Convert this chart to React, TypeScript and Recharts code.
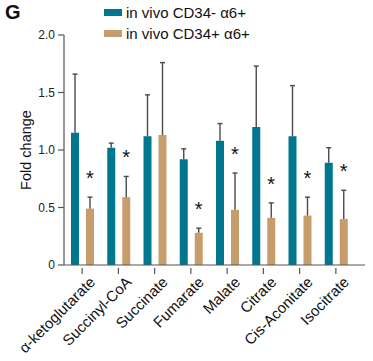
import React from "react";
import { BarChart, Bar, XAxis, YAxis, LabelList } from "recharts";

const categories = [
  "α-ketoglutarate",
  "Succinyl-CoA",
  "Succinate",
  "Fumarate",
  "Malate",
  "Citrate",
  "Cis-Aconitate",
  "Isocitrate",
];
const negMean = [1.15, 1.02, 1.12, 0.92, 1.08, 1.2, 1.12, 0.89];
const negErr = [0.51, 0.04, 0.36, 0.09, 0.15, 0.53, 0.44, 0.13];
const posMean = [0.49, 0.59, 1.13, 0.28, 0.48, 0.41, 0.43, 0.4];
const posErr = [0.1, 0.18, 0.63, 0.04, 0.32, 0.13, 0.16, 0.25];
const significant = [true, true, false, true, true, true, true, true];
const yTicks = [0, 0.5, 1.0, 1.5, 2.0];
const seriesNames = ["in vivo CD34- α6+", "in vivo CD34+ α6+"];

const BLUE = "#00768f";
const TAN = "#c89d6c";
const FONT = "'Liberation Sans', Arial, Helvetica, sans-serif";

const data = categories.map((name, i) => ({
  name,
  neg: negMean[i],
  negErr: negErr[i],
  pos: posMean[i],
  posErr: posErr[i],
  sig: significant[i],
}));

const makeErr = (meanKey: "neg" | "pos", star: boolean) => (props: any) => {
  const vb = props.viewBox || {};
  const x = props.x ?? vb.x;
  const y = props.y ?? vb.y;
  const width = props.width ?? vb.width;
  const height = props.height ?? vb.height;
  const idx = props.index;
  const row = data[idx];
  if (!row || x == null) return null;
  const mean = row[meanKey];
  const err = Number(props.value);
  const pxPerUnit = Math.abs(height) / mean;
  const cx = x + width / 2;
  const top = y - err * pxPerUnit;
  return (
    <g>
      <line x1={cx} y1={y} x2={cx} y2={top} stroke="#4a4a4a" strokeWidth={1.4} />
      <line x1={cx - 2.5} y1={top} x2={cx + 2.5} y2={top} stroke="#4a4a4a" strokeWidth={1.4} />
      {star && row.sig ? (
        <text x={cx} y={top - 12} textAnchor="middle" fontSize={20} fontFamily={FONT} fill="#111">
          *
        </text>
      ) : null}
    </g>
  );
};

const XTick = (props: any) => {
  const { x, y, payload } = props;
  return (
    <g>
      <line x1={x} y1={y - 3} x2={x} y2={y + 3} stroke="#555" strokeWidth={1.2} />
      <text
        x={x + 14}
        y={y + 12}
        textAnchor="end"
        transform={`rotate(-45, ${x + 14}, ${y + 12})`}
        fontSize={15}
        fontFamily={FONT}
        fill="#111"
      >
        {payload.value}
      </text>
    </g>
  );
};

export default function App() {
  return (
    <div style={{ position: "absolute", left: 0, top: 0, width: 373, height: 361, background: "#fff" }}>
      <div
        style={{
          position: "absolute",
          left: 5,
          top: 1,
          fontFamily: FONT,
          fontWeight: "bold",
          fontSize: 20,
          color: "#111",
        }}
      >
        G
      </div>
      <div
        style={{
          position: "absolute",
          left: 104,
          top: 2,
          fontFamily: FONT,
          fontSize: 15,
          color: "#111",
          zIndex: 2,
        }}
      >
        {seriesNames.map((t, i) => (
          <div key={t} style={{ display: "flex", alignItems: "center", height: 21 }}>
            <span
              style={{
                display: "inline-block",
                width: 18,
                height: 7,
                background: i === 0 ? BLUE : TAN,
                marginRight: 4,
              }}
            />
            <span>{t}</span>
          </div>
        ))}
      </div>
      <BarChart
        width={373}
        height={361}
        data={data}
        margin={{ top: 35, right: 8, bottom: 0, left: 0 }}
        barSize={8}
        barGap={7}
      >
        <XAxis
          dataKey="name"
          interval={0}
          height={96}
          tickLine={false}
          tick={<XTick />}
          tickMargin={0}
          axisLine={{ stroke: "#555", strokeWidth: 1.2 }}
          padding={{ left: 0, right: 11 }}
        />
        <YAxis
          domain={[0, 2]}
          ticks={yTicks}
          width={64}
          tickSize={6}
          tickMargin={3}
          tickFormatter={(v: number) => (v === 0 ? "0" : v.toFixed(1))}
          tick={{ fontSize: 12, fontFamily: FONT, fill: "#222" }}
          axisLine={{ stroke: "#555", strokeWidth: 1.2 }}
          tickLine={{ stroke: "#555", strokeWidth: 1.2 }}
          label={{
            value: "Fold  change",
            angle: -90,
            position: "insideLeft",
            offset: 26,
            style: { fontSize: 14.5, fontFamily: FONT, fill: "#111", textAnchor: "middle", whiteSpace: "pre" },
          }}
        />
        <Bar dataKey="neg" fill={BLUE} isAnimationActive={false}>
          <LabelList dataKey="negErr" content={makeErr("neg", false)} />
        </Bar>
        <Bar dataKey="pos" fill={TAN} isAnimationActive={false}>
          <LabelList dataKey="posErr" content={makeErr("pos", true)} />
        </Bar>
      </BarChart>
    </div>
  );
}
